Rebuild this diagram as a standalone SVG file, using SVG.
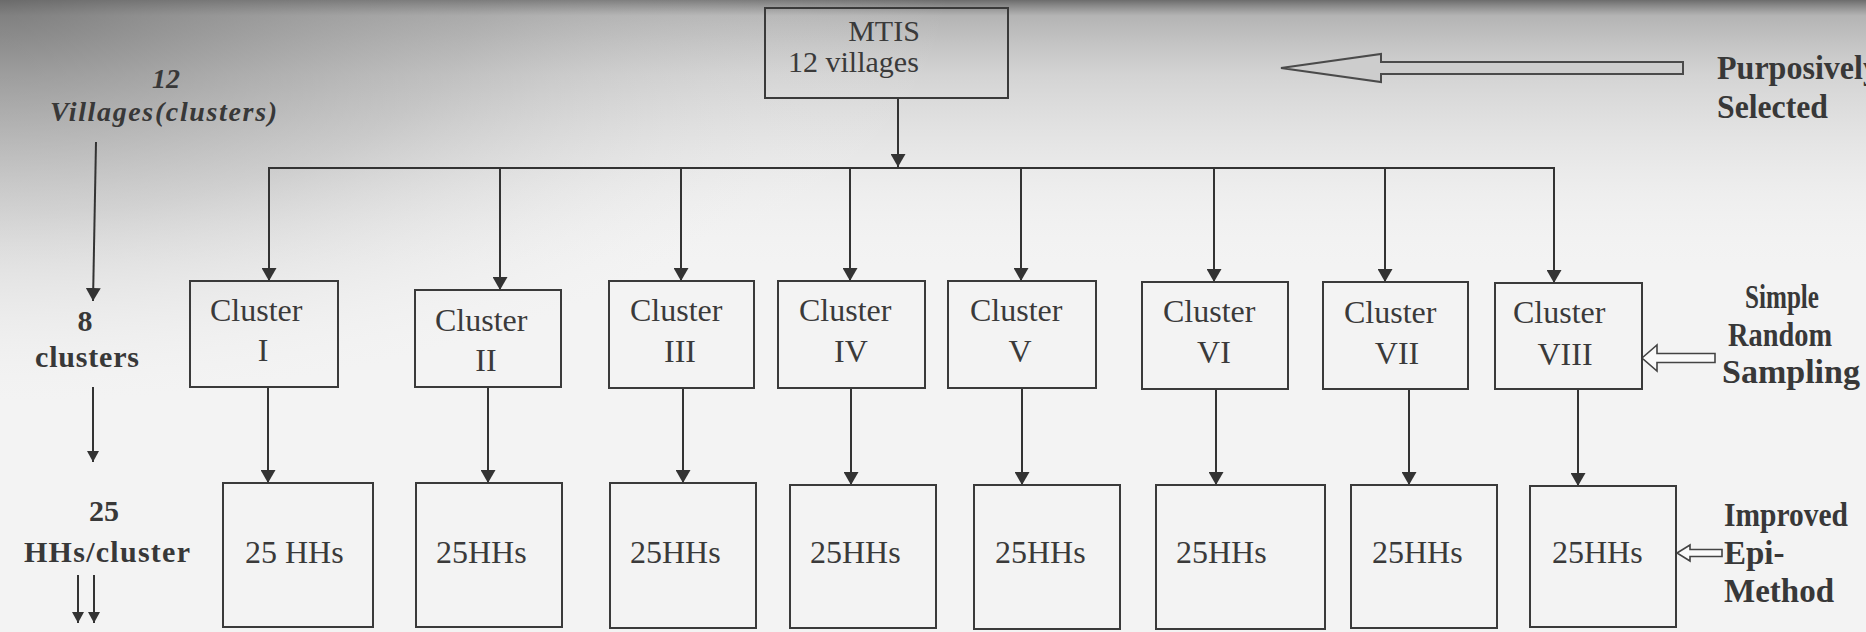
<svg xmlns="http://www.w3.org/2000/svg" width="1866" height="632" viewBox="0 0 1866 632">
<defs>
<style>
.box{fill:none;stroke:#3a3a3a;stroke-width:2}
.t{font-family:"Liberation Serif","Times New Roman",serif;font-size:32px;fill:#3a3a3a}
.tm{font-family:"Liberation Serif","Times New Roman",serif;font-size:30px;fill:#3a3a3a}
.lb{font-family:"Liberation Serif","Times New Roman",serif;font-weight:bold;font-size:30px;fill:#383838}
.rb{font-family:"Liberation Serif","Times New Roman",serif;font-weight:bold;font-size:33px;fill:#383838}
.lbi{font-family:"Liberation Serif","Times New Roman",serif;font-weight:bold;font-style:italic;font-size:28px;fill:#383838}
.c{stroke:#333;stroke-width:2;fill:none}
.hollow{stroke:#444;stroke-width:1.6;fill:#fafafa}
</style>
<marker id="ah" markerUnits="userSpaceOnUse" viewBox="0 0 13 15" refX="13" refY="7.5" markerWidth="13" markerHeight="15" orient="auto">
<path d="M0,0 L13,7.5 L0,15 z" fill="#333"/>
</marker>
<marker id="ahs" markerUnits="userSpaceOnUse" viewBox="0 0 11 12" refX="11" refY="6" markerWidth="11" markerHeight="12" orient="auto">
<path d="M0,0 L11,6 L0,12 z" fill="#333"/>
</marker>
<linearGradient id="topShade" x1="0" y1="0" x2="0" y2="1">
<stop offset="0" stop-color="#4a4a4a" stop-opacity="0.8"/>
<stop offset="0.025" stop-color="#8a8a8a" stop-opacity="0.6"/>
<stop offset="0.12" stop-color="#9a9a9a" stop-opacity="0.35"/>
<stop offset="0.3" stop-color="#bbbbbb" stop-opacity="0.1"/>
<stop offset="0.45" stop-color="#ffffff" stop-opacity="0"/>
</linearGradient>
<radialGradient id="leftShade" gradientUnits="userSpaceOnUse" cx="0" cy="0" r="950" gradientTransform="scale(1,0.45)">
<stop offset="0" stop-color="#6a6a6a" stop-opacity="0.75"/>
<stop offset="0.5" stop-color="#9a9a9a" stop-opacity="0.35"/>
<stop offset="1" stop-color="#ffffff" stop-opacity="0"/>
</radialGradient>
</defs>
<rect width="1866" height="632" fill="#f3f3f3"/>
<rect width="1866" height="632" fill="url(#topShade)"/>
<rect width="1866" height="632" fill="url(#leftShade)"/>

<g id="connectors">
<line class="c" x1="898" y1="98" x2="898" y2="167" marker-end="url(#ah)"/>
<line class="c" x1="268" y1="168" x2="1555" y2="168"/>
<line class="c" x1="269" y1="168" x2="269" y2="281" marker-end="url(#ah)"/>
<line class="c" x1="500" y1="168" x2="500" y2="290" marker-end="url(#ah)"/>
<line class="c" x1="681" y1="168" x2="681" y2="281" marker-end="url(#ah)"/>
<line class="c" x1="850" y1="168" x2="850" y2="281" marker-end="url(#ah)"/>
<line class="c" x1="1021" y1="168" x2="1021" y2="281" marker-end="url(#ah)"/>
<line class="c" x1="1214" y1="168" x2="1214" y2="282" marker-end="url(#ah)"/>
<line class="c" x1="1385" y1="168" x2="1385" y2="282" marker-end="url(#ah)"/>
<line class="c" x1="1554" y1="168" x2="1554" y2="283" marker-end="url(#ah)"/>
<line class="c" x1="268" y1="387" x2="268" y2="483" marker-end="url(#ah)"/>
<line class="c" x1="488" y1="387" x2="488" y2="483" marker-end="url(#ah)"/>
<line class="c" x1="683" y1="388" x2="683" y2="483" marker-end="url(#ah)"/>
<line class="c" x1="851" y1="388" x2="851" y2="485" marker-end="url(#ah)"/>
<line class="c" x1="1022" y1="388" x2="1022" y2="485" marker-end="url(#ah)"/>
<line class="c" x1="1216" y1="389" x2="1216" y2="485" marker-end="url(#ah)"/>
<line class="c" x1="1409" y1="389" x2="1409" y2="485" marker-end="url(#ah)"/>
<line class="c" x1="1578" y1="389" x2="1578" y2="486" marker-end="url(#ah)"/>
<line class="c" x1="96" y1="142" x2="93" y2="301" marker-end="url(#ah)"/>
<line class="c" x1="93" y1="387" x2="93" y2="462" marker-end="url(#ahs)"/>
<line class="c" x1="78" y1="575" x2="78" y2="623" marker-end="url(#ahs)"/>
<line class="c" x1="94" y1="575" x2="94" y2="623" marker-end="url(#ahs)"/>
<polygon points="1281,68 1381,54 1381,62 1683,62 1683,74 1381,74 1381,82" fill="#cdcdcd" stroke="#4a4a4a" stroke-width="2"/>
<polygon class="hollow" points="1642,358 1657,345 1657,353.5 1715,353.5 1715,362.5 1657,362.5 1657,371"/>
<polygon class="hollow" points="1677,553 1690,545 1690,549.5 1722,549.5 1722,556.5 1690,556.5 1690,561"/>
</g>

<g id="mtis">
<rect class="box" x="765" y="8" width="243" height="90"/>
<text class="tm" x="884" y="41" text-anchor="middle">MTIS</text>
<text class="tm" x="788" y="72">12 villages</text>
</g>

<g id="cluster1"><rect class="box" x="190" y="281" width="148" height="106"/><text class="t" x="210" y="321">Cluster</text><text class="t" x="263" y="361" text-anchor="middle">I</text></g>
<g id="cluster2"><rect class="box" x="415" y="290" width="146" height="97"/><text class="t" x="435" y="331">Cluster</text><text class="t" x="486" y="371" text-anchor="middle">II</text></g>
<g id="cluster3"><rect class="box" x="609" y="281" width="145" height="107"/><text class="t" x="630" y="321">Cluster</text><text class="t" x="680" y="362" text-anchor="middle">III</text></g>
<g id="cluster4"><rect class="box" x="778" y="281" width="147" height="107"/><text class="t" x="799" y="321">Cluster</text><text class="t" x="851" y="362" text-anchor="middle">IV</text></g>
<g id="cluster5"><rect class="box" x="948" y="281" width="148" height="107"/><text class="t" x="970" y="321">Cluster</text><text class="t" x="1020" y="362" text-anchor="middle">V</text></g>
<g id="cluster6"><rect class="box" x="1142" y="282" width="146" height="107"/><text class="t" x="1163" y="322">Cluster</text><text class="t" x="1214" y="363" text-anchor="middle">VI</text></g>
<g id="cluster7"><rect class="box" x="1323" y="282" width="145" height="107"/><text class="t" x="1344" y="323">Cluster</text><text class="t" x="1397" y="364" text-anchor="middle">VII</text></g>
<g id="cluster8"><rect class="box" x="1495" y="283" width="147" height="106"/><text class="t" x="1513" y="323">Cluster</text><text class="t" x="1565" y="365" text-anchor="middle">VIII</text></g>

<g id="hh1"><rect class="box" x="223" y="483" width="150" height="144"/><text class="t" x="245" y="563">25 HHs</text></g>
<g id="hh2"><rect class="box" x="416" y="483" width="146" height="144"/><text class="t" x="436" y="563">25HHs</text></g>
<g id="hh3"><rect class="box" x="610" y="483" width="146" height="145"/><text class="t" x="630" y="563">25HHs</text></g>
<g id="hh4"><rect class="box" x="790" y="485" width="146" height="143"/><text class="t" x="810" y="563">25HHs</text></g>
<g id="hh5"><rect class="box" x="974" y="485" width="146" height="144"/><text class="t" x="995" y="563">25HHs</text></g>
<g id="hh6"><rect class="box" x="1156" y="485" width="169" height="144"/><text class="t" x="1176" y="563">25HHs</text></g>
<g id="hh7"><rect class="box" x="1351" y="485" width="146" height="143"/><text class="t" x="1372" y="563">25HHs</text></g>
<g id="hh8"><rect class="box" x="1530" y="486" width="146" height="141"/><text class="t" x="1552" y="563">25HHs</text></g>

<g id="left-labels">
<text class="lbi" x="166" y="88" text-anchor="middle">12</text>
<text class="lbi" x="50" y="121" textLength="227" lengthAdjust="spacing">Villages(clusters)</text>
<text class="lb" x="85" y="331" text-anchor="middle">8</text>
<text class="lb" x="35" y="367" textLength="104" lengthAdjust="spacing">clusters</text>
<text class="lb" x="104" y="521" text-anchor="middle">25</text>
<text class="lb" x="24" y="562" textLength="166" lengthAdjust="spacing">HHs/cluster</text>
</g>

<g id="right-labels">
<text class="rb" x="1717" y="79" textLength="162" lengthAdjust="spacingAndGlyphs">Purposively</text>
<text class="rb" x="1717" y="118" textLength="111" lengthAdjust="spacingAndGlyphs">Selected</text>
<text class="rb" x="1745" y="308" textLength="74" lengthAdjust="spacingAndGlyphs">Simple</text>
<text class="rb" x="1728" y="346" textLength="104" lengthAdjust="spacingAndGlyphs">Random</text>
<text class="rb" x="1722" y="383" textLength="138" lengthAdjust="spacingAndGlyphs">Sampling</text>
<text class="rb" x="1724" y="526" textLength="124" lengthAdjust="spacingAndGlyphs">Improved</text>
<text class="rb" x="1724" y="564">Epi-</text>
<text class="rb" x="1724" y="602" textLength="110" lengthAdjust="spacingAndGlyphs">Method</text>
</g>
</svg>
